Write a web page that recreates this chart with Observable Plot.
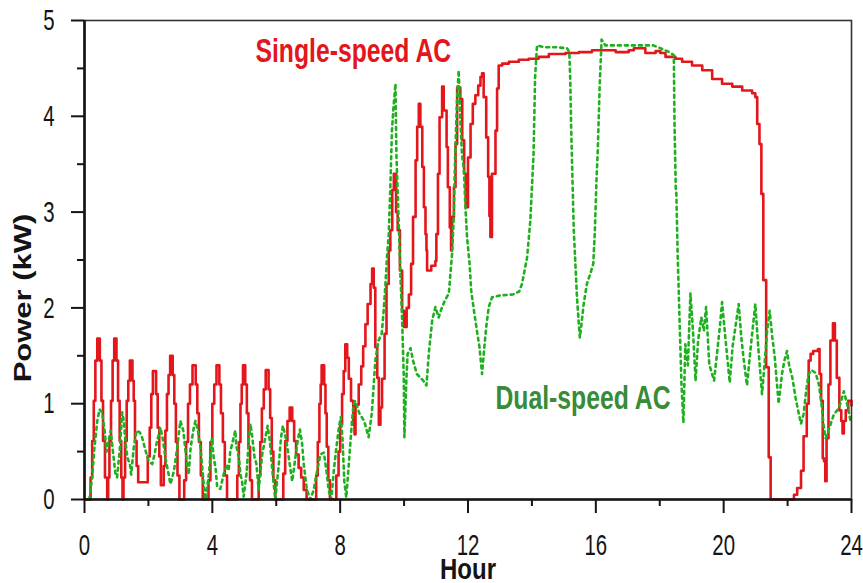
<!DOCTYPE html>
<html><head><meta charset="utf-8">
<script src="https://cdn.jsdelivr.net/npm/d3@7"></script>
<script src="https://cdn.jsdelivr.net/npm/@observablehq/plot@0.6"></script>
<style>html,body{margin:0;padding:0;background:#fff;}</style>
</head><body><div id="chart"></div>
<script>
// Single-speed AC: [hour, kW] breakpoints (staircase, value holds until next hour)
const singleSpeed = [[0,0],[0.19,0.23],[0.24,0.61],[0.29,1.03],[0.34,1.45],[0.40,1.68],[0.48,1.45],[0.53,1.03],[0.58,0.61],[0.64,0.23],[0.71,0],
[0.74,0.23],[0.78,0.61],[0.83,1.03],[0.88,1.45],[0.93,1.68],[1.00,1.45],[1.05,1.03],[1.10,0.61],[1.15,0.23],[1.19,0],
[1.22,0.23],[1.27,0.61],[1.32,1.03],[1.37,1.24],[1.42,1.45],[1.50,1.24],[1.54,1.03],[1.58,0.61],[1.63,0.35],[1.68,0.18],
[1.98,0.45],[2.04,0.75],[2.09,1.10],[2.14,1.34],[2.24,1.10],[2.29,0.75],[2.34,0.45],[2.39,0.15],
[2.48,0.35],[2.53,0.72],[2.58,1.10],[2.63,1.30],[2.68,1.50],[2.76,1.30],[2.81,1.00],[2.86,0.60],[2.91,0.25],[2.97,0],
[3.12,0.20],[3.18,0.60],[3.24,1.00],[3.30,1.20],[3.38,1.40],[3.48,1.20],[3.53,0.90],[3.58,0.60],[3.64,0.25],[3.70,0],
[3.88,0.20],[3.94,0.60],[4.00,1.00],[4.06,1.20],[4.13,1.40],[4.22,1.20],[4.27,0.90],[4.33,0.60],[4.39,0.25],[4.46,0],
[4.78,0.25],[4.83,0.60],[4.88,1.00],[4.92,1.20],[4.96,1.40],[5.03,1.20],[5.08,0.90],[5.13,0.55],[5.18,0.20],[5.24,0],
[5.45,0.25],[5.50,0.60],[5.55,0.95],[5.61,1.15],[5.67,1.35],[5.76,1.15],[5.81,0.85],[5.86,0.50],[5.91,0.20],[5.97,0],
[6.22,0.27],[6.28,0.61],[6.35,0.82],[6.42,0.96],[6.50,0.82],[6.56,0.61],[6.62,0.47],[6.70,0.33],[6.78,0.23],[6.86,0.10],[6.95,0],
[7.25,0.25],[7.30,0.60],[7.35,1.00],[7.39,1.20],[7.42,1.40],[7.50,1.20],[7.54,0.90],[7.58,0.55],[7.63,0.20],[7.68,0],
[7.88,0.25],[7.95,0.50],[8.00,0.78],[8.06,1.10],[8.11,1.34],[8.16,1.62],[8.22,1.48],[8.27,1.26],[8.34,1.03],[8.41,0.78],[8.45,0.68],
[8.48,0.99],[8.58,1.20],[8.66,1.39],[8.72,1.60],[8.79,1.83],[8.86,2.04],[8.95,2.25],[9.00,2.41],[9.05,2.21],[9.10,1.59],[9.16,1.27],[9.21,0.78],
[9.26,0.96],[9.31,1.26],[9.39,1.73],[9.45,2.25],[9.52,2.60],[9.57,2.81],[9.63,3.23],[9.68,3.40],[9.75,3.00],[9.80,2.81],[9.87,2.39],[9.94,1.97],[10.00,1.80],
[10.08,2.00],[10.15,2.14],[10.22,2.46],[10.28,2.95],[10.36,3.54],[10.41,3.89],[10.46,4.13],[10.51,3.89],[10.57,3.47],[10.62,3.05],[10.67,2.77],[10.70,2.60],[10.72,2.39],[10.85,2.44],[10.98,2.49],
[11.01,2.77],[11.06,3.40],[11.11,3.99],[11.19,4.31],[11.24,4.06],[11.33,3.68],[11.37,3.26],[11.43,2.84],[11.47,2.60],
[11.50,2.95],[11.56,3.26],[11.61,3.71],[11.66,4.30],[11.76,4.18],[11.82,3.75],[11.88,3.40],[11.93,3.05],
[12.00,3.57],[12.08,3.92],[12.15,4.13],[12.23,4.22],[12.32,4.32],[12.39,4.41],[12.44,4.45],[12.49,4.20],[12.57,3.78],[12.63,3.37],[12.67,2.96],[12.70,2.74],
[12.75,3.40],[12.86,3.85],[12.91,4.29],[12.96,4.53],[13.07,4.55],[13.28,4.57],[13.59,4.59],[13.90,4.60],[14.21,4.62],[14.53,4.65],[15.05,4.66],[15.47,4.67],[15.88,4.69],
[16.41,4.69],[16.62,4.67],[17.03,4.69],[17.19,4.71],[17.55,4.66],[17.87,4.68],[18.02,4.66],[18.18,4.62],[18.49,4.60],[18.70,4.57],[19.01,4.53],[19.33,4.48],[19.64,4.39],[19.95,4.34],
[20.27,4.31],[20.58,4.27],[20.89,4.24],[20.99,4.20],[21.05,3.92],[21.12,3.71],[21.18,3.19],[21.24,2.29],[21.33,1.38],[21.41,0.44],[21.47,0],
[22.20,0.05],[22.30,0.12],[22.42,0.30],[22.50,0.66],[22.60,1.00],[22.66,1.45],[22.72,1.52],[22.80,1.55],[22.95,1.57],[23.00,1.31],[23.05,1.03],[23.10,0.43],[23.14,0.40],[23.18,0.19],
[23.22,0.64],[23.28,1.20],[23.34,1.66],[23.42,1.84],[23.48,1.66],[23.54,1.27],[23.62,0.93],[23.68,0.82],[23.72,0.69],[23.76,0.82],[23.82,0.93],[23.90,1.03],[24.00,0.98]];

// Dual-speed AC: [hour, kW]
const dualSpeed = [[0.15,0],[0.24,0.23],[0.31,0.54],[0.40,0.82],[0.47,0.94],[0.55,0.91],[0.63,0.72],[0.69,0.50],[0.76,0.62],[0.82,0.72],[0.90,0.47],[0.97,0.26],[1.02,0.23],
[1.11,0.55],[1.18,0.91],[1.23,0.82],[1.28,0.61],[1.34,0.44],[1.42,0.37],[1.46,0.26],[1.54,0.54],[1.63,0.72],[1.73,0.70],[1.80,0.65],[1.91,0.51],[2.01,0.40],[2.12,0.37],
[2.19,0.47],[2.27,0.61],[2.38,0.75],[2.46,0.61],[2.53,0.44],[2.61,0.30],[2.69,0.16],[2.80,0.30],[2.90,0.54],[3.00,0.82],[3.09,0.72],[3.16,0.51],[3.21,0.37],[3.26,0.26],
[3.32,0.54],[3.42,0.75],[3.47,0.82],[3.55,0.72],[3.63,0.54],[3.73,0.16],[3.79,0],[3.89,0.26],[3.99,0.64],[4.04,0.44],[4.10,0.33],[4.15,0.14],[4.25,0.11],[4.36,0.27],
[4.46,0.37],[4.51,0.30],[4.56,0.50],[4.62,0.58],[4.72,0.72],[4.75,0.56],[4.83,0.44],[4.88,0.26],[4.93,0.19],[4.98,0.03],[5.07,0.27],[5.14,0.61],[5.19,0.79],[5.24,0.68],
[5.32,0.44],[5.38,0.37],[5.45,0.10],[5.56,0.47],[5.66,0.65],[5.73,0.77],[5.80,0.61],[5.87,0.33],[5.97,0],[6.08,0.37],[6.15,0.65],[6.21,0.77],[6.32,0.61],[6.42,0.37],
[6.50,0.19],[6.60,0.44],[6.67,0.61],[6.74,0.73],[6.81,0.58],[6.86,0.37],[6.96,0.10],[7.07,0],[7.17,0.10],[7.28,0.30],[7.38,0.47],[7.49,0.49],[7.57,0.30],[7.64,0.10],
[7.72,0],[7.80,0.30],[7.88,0.54],[7.96,0.75],[8.02,0.86],[8.07,0.65],[8.13,0.19],[8.19,0.02],[8.27,0.37],[8.37,0.82],[8.42,0.99],[8.47,1.03],[8.60,0.90],[8.75,0.82],
[8.89,0.65],[8.99,0.90],[9.10,1.45],[9.20,1.66],[9.30,1.73],[9.36,1.97],[9.41,2.21],[9.47,2.56],[9.52,2.77],[9.57,3.26],[9.62,3.85],[9.67,4.10],[9.73,4.34],[9.76,3.60],
[9.83,2.91],[9.88,2.39],[9.94,1.87],[9.99,1.28],[10.01,0.65],[10.07,1.24],[10.11,1.52],[10.20,1.58],[10.28,1.45],[10.40,1.31],[10.60,1.24],[10.70,1.19],[10.78,1.55],
[10.88,1.87],[10.98,2.01],[11.08,1.90],[11.18,2.00],[11.28,2.08],[11.40,2.15],[11.50,2.56],[11.55,2.91],[11.60,3.61],[11.66,4.20],[11.71,4.48],[11.76,3.96],[11.81,3.61],
[11.87,3.44],[11.92,3.05],[11.97,2.74],[12.05,2.46],[12.10,2.18],[12.20,1.94],[12.28,1.76],[12.36,1.59],[12.44,1.31],[12.50,1.55],[12.57,1.80],[12.65,2.01],[12.75,2.11],
[13.00,2.13],[13.40,2.14],[13.60,2.17],[13.69,2.25],[13.85,2.53],[13.95,2.91],[14.05,3.60],[14.10,4.41],[14.16,4.74],[14.40,4.72],[14.80,4.72],[15.10,4.71],[15.17,4.67],
[15.20,4.38],[15.23,3.85],[15.27,3.33],[15.31,2.81],[15.36,2.46],[15.41,2.11],[15.46,1.87],[15.50,1.69],[15.55,1.83],[15.62,2.04],[15.72,2.25],[15.82,2.35],[15.92,2.46],
[15.97,2.81],[16.02,3.33],[16.06,3.64],[16.12,4.31],[16.18,4.80],[16.30,4.74],[16.80,4.74],[17.30,4.74],[17.80,4.74],[18.02,4.71],[18.30,4.67],[18.44,4.64],[18.46,3.96],
[18.50,3.26],[18.52,3.19],[18.56,2.56],[18.62,1.87],[18.68,1.20],[18.74,0.80],[18.80,1.62],[18.88,1.40],[18.96,2.15],[19.04,1.76],[19.12,1.24],[19.20,1.66],[19.30,1.90],
[19.38,1.76],[19.45,2.01],[19.55,1.41],[19.70,1.24],[19.80,1.55],[19.88,1.80],[19.95,2.06],[20.05,1.70],[20.19,1.22],[20.28,1.60],[20.38,1.83],[20.47,2.04],[20.55,1.70],
[20.62,1.48],[20.73,1.19],[20.82,1.50],[20.90,1.76],[20.99,2.04],[21.08,1.60],[21.20,1.10],[21.30,1.50],[21.36,1.76],[21.44,1.97],[21.52,1.70],[21.60,1.48],[21.72,1.00],
[21.82,1.30],[21.90,1.45],[21.98,1.55],[22.05,1.40],[22.15,1.27],[22.25,1.06],[22.33,0.93],[22.42,0.79],[22.50,0.89],[22.58,1.13],[22.66,1.31],[22.75,1.35],[22.88,1.32],
[22.98,1.20],[23.06,1.00],[23.12,0.79],[23.19,0.64],[23.26,0.70],[23.35,0.79],[23.45,0.89],[23.55,0.93],[23.65,1.00],[23.76,1.13],[23.86,1.00],[23.97,0.82]];

const xMajorTicks = [0, 4, 8, 12, 16, 20, 24];
const xMinorTicks = [2, 6, 10, 14, 18, 22];
const yMajorTicks = [0, 1, 2, 3, 4, 5];
const yMinorTicks = [0.5, 1.5, 2.5, 3.5, 4.5];
const seriesNames = ["Single-speed AC", "Dual-speed AC"];
const xTitle = "Hour";
const yTitle = "Power (kW)";

const toRows = (pts) => pts.map(([hour, kw]) => ({hour, kw}));
const red = toRows(singleSpeed);
const green = toRows(dualSpeed);

const ink = "#141414";
const font = "'Liberation Sans', Arial, Helvetica, sans-serif";
const intFmt = d3.format("d");

const chart = Plot.plot({
  width: 863,
  height: 583,
  marginLeft: 84,
  marginRight: 12,
  marginTop: 20,
  marginBottom: 84,
  x: {domain: [0, 24], label: null},
  y: {domain: [0, 5], label: null},
  style: {fontFamily: font, fontSize: "30px", color: ink, background: "#fff"},
  marks: [
    Plot.line(red, {x: "hour", y: "kw", curve: "step-after", stroke: "#e3161c", strokeWidth: 2.6}),
    Plot.line(green, {x: "hour", y: "kw", stroke: "#1fb01f", strokeWidth: 2.6, strokeDasharray: "3,4"}),
    Plot.frame({stroke: "#333", strokeWidth: 1.6}),
    Plot.ruleY([0], {stroke: ink, strokeWidth: 2.6}),
    Plot.ruleX([0], {stroke: ink, strokeWidth: 2.6}),
    Plot.axisX(xMajorTicks, {tickSize: 14, tickPadding: 20, strokeWidth: 2, label: null, color: ink, fontSize: 30, tickFormat: intFmt}),
    Plot.axisX(xMinorTicks, {tickSize: 7, tickFormat: () => "", strokeWidth: 2, label: null, color: ink}),
    Plot.axisY(yMajorTicks, {tickSize: 13, tickPadding: 17, strokeWidth: 2, label: null, color: ink, fontSize: 30, tickFormat: intFmt}),
    Plot.axisY(yMinorTicks, {tickSize: 7, tickFormat: () => "", strokeWidth: 2, label: null, color: ink}),
    Plot.text([seriesNames[0]], {x: 5.35, y: 4.68, textAnchor: "start", fill: "#e3161c", fontSize: 33, fontWeight: "bold"}),
    Plot.text([seriesNames[1]], {x: 12.86, y: 1.056, textAnchor: "start", fill: "#378c37", fontSize: 33, fontWeight: "bold"}),
    Plot.text([xTitle], {frameAnchor: "bottom", textAnchor: "middle", lineAnchor: "top", dy: 58, fontSize: 30, fontWeight: "bold", fill: ink}),
    Plot.text([yTitle], {frameAnchor: "left", textAnchor: "middle", rotate: -90, dx: -61, dy: 38, fontSize: 31, fontWeight: "bold", fill: ink})
  ]
});

// The reference image is vertically stretched: make every text narrower horizontally.
d3.select(chart).selectAll("text").each(function () {
  const txt = this.textContent;
  const k = /^\s*\d+\s*$/.test(txt) ? 0.68 : (txt === xTitle ? 0.8 : 0.75);
  const t = this.getAttribute("transform") || "";
  const m = t.match(/^\s*translate\(([^)]*)\)(.*)$/);
  if (m) {
    this.setAttribute("transform", `translate(${m[1]}) scale(${k},1)${m[2]}`);
  } else {
    const x = +(this.getAttribute("x") || 0), y = +(this.getAttribute("y") || 0);
    this.removeAttribute("x"); this.removeAttribute("y");
    this.setAttribute("transform", `translate(${x},${y}) scale(${k},1) ${t}`);
  }
});

document.getElementById("chart").appendChild(chart);
</script>
</body></html>
